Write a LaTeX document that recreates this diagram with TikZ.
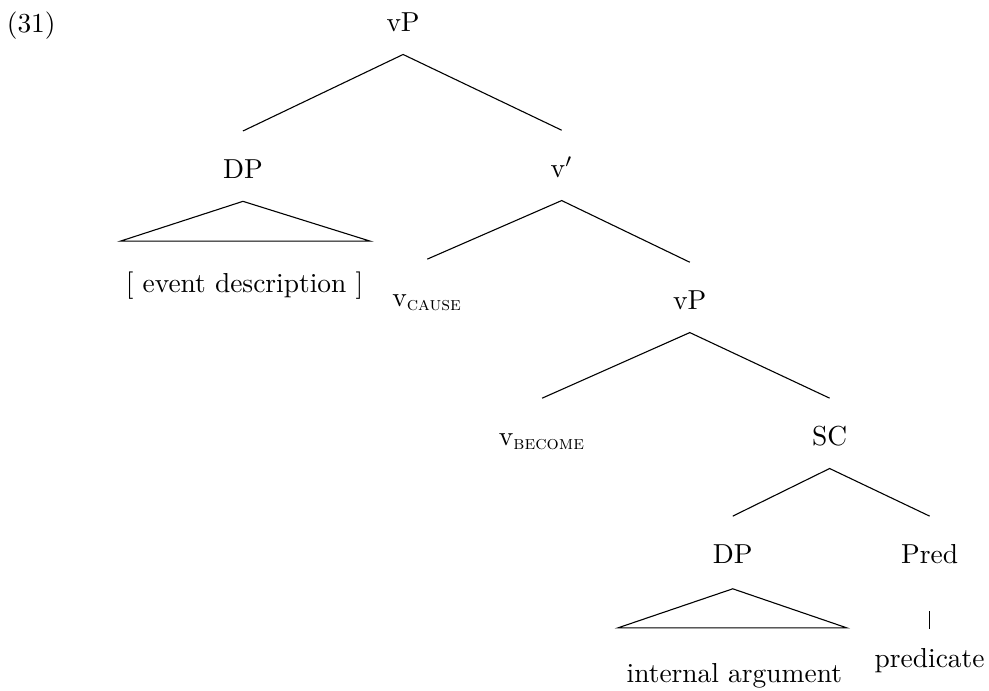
\documentclass[tikz,border=0pt]{standalone}
\tikzset{
  lbl/.style={anchor=base, inner sep=0pt, text height=7pt, text depth=2pt}
}
\begin{document}
\begin{tikzpicture}
\useasboundingbox (0,0) rectangle (12.66,-8.84);
\node[lbl] (ex) at (0.40,-0.42) {(31)};
\node[lbl] (vP) at (5.16,-0.40) {vP};
\node[lbl] (DP) at (3.11,-2.28) {DP};
\node[lbl] (vbar) at (7.19,-2.27) {v$'$};
\node[lbl] (desc) at (3.13,-3.75) {[ event description ]};
\node[lbl] (vcause) at (5.47,-3.92) {v\textsubscript{\textsc{cause}}};
\node[lbl] (vPlow) at (8.83,-3.96) {vP};
\node[lbl] (vbecome) at (6.94,-5.70) {v\textsubscript{\textsc{become}}};
\node[lbl] (SC) at (10.62,-5.70) {SC};
\node[lbl] (DPlow) at (9.38,-7.21) {DP};
\node[lbl] (Pred) at (11.90,-7.21) {Pred};
\node[lbl] (intarg) at (9.40,-8.74) {internal argument};
\node[lbl] (predicate) at (11.90,-8.54) {predicate};
% branches
\coordinate (vP-top) at ([yshift=-0.22cm]vP.south);
\coordinate (vbar-top) at ([yshift=-0.22cm]vbar.south);
\coordinate (vPlow-top) at ([yshift=-0.22cm]vPlow.south);
\coordinate (SC-top) at ([yshift=-0.22cm]SC.south);
\draw ([yshift=0.35cm]DP.north) -- (vP-top) -- ([yshift=0.35cm]vbar.north);
\draw ([yshift=0.35cm]vcause.north) -- (vbar-top) -- ([yshift=0.35cm]vPlow.north);
\draw ([yshift=0.35cm]vbecome.north) -- (vPlow-top) -- ([yshift=0.35cm]SC.north);
\draw ([yshift=0.35cm]DPlow.north) -- (SC-top) -- ([yshift=0.35cm]Pred.north);
\draw ([yshift=-0.54cm]Pred.south) -- ([yshift=0.24cm]predicate.north);
% triangles
\draw ([yshift=-0.22cm]DP.south) -- ++(-1.57,-0.51) -- ++(3.20,0) -- cycle;
\draw ([yshift=-0.25cm]DPlow.south) -- ++(-1.47,-0.50) -- ++(2.93,0) -- cycle;
\end{tikzpicture}
\end{document}
